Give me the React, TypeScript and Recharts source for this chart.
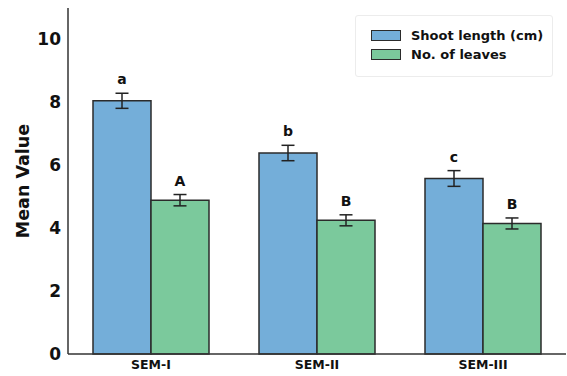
import React from 'react';
import { BarChart, Bar, XAxis, YAxis, ErrorBar, LabelList } from 'recharts';

const categories = ['SEM-I', 'SEM-II', 'SEM-III'];
const shootLength = [8.05, 6.39, 5.58];
const shootErr = [0.24, 0.245, 0.25];
const leaves = [4.89, 4.25, 4.15];
const leavesErr = [0.18, 0.175, 0.175];
const shootLetters = ['a', 'b', 'c'];
const leavesLetters = ['A', 'B', 'B'];
const yTicks = [0, 2, 4, 6, 8, 10];

const BLUE = '#74aed9';
const GREEN = '#7bc99c';
const EDGE = '#2b2b2b';
const FONT = '"DejaVu Sans", Verdana, sans-serif';

const data = categories.map((c, i) => ({
  name: c,
  shoot: shootLength[i],
  shootErr: shootErr[i],
  leaves: leaves[i],
  leavesErr: leavesErr[i],
}));

const makeLetter = (letters: string[], values: number[], errs: number[]) => (props: any) => {
  const { x, y, width, height, index } = props;
  const v = values[index];
  const pxPerUnit = height / v;
  const errTop = y - errs[index] * pxPerUnit;
  return (
    <text
      x={x + width / 2}
      y={errTop - 9}
      textAnchor="middle"
      fontFamily={FONT}
      fontWeight="bold"
      fontSize={14}
      fill="#111"
    >
      {letters[index]}
    </text>
  );
};

const legendItems = [
  { label: 'Shoot length (cm)', color: BLUE },
  { label: 'No. of leaves', color: GREEN },
];

const LegendBox = () => (
  <div
    style={{
      position: 'absolute',
      left: 355,
      top: 15,
      width: 198,
      height: 62,
      border: '1px solid #ececec',
      borderRadius: 3,
      boxSizing: 'border-box',
      background: '#fff',
      paddingTop: 10,
      paddingLeft: 15,
    }}
  >
    {legendItems.map((it) => (
      <div key={it.label} style={{ display: 'flex', alignItems: 'center', height: 19.3 }}>
        <div
          style={{
            width: 28,
            height: 9,
            background: it.color,
            border: `1px solid ${EDGE}`,
            marginRight: 10,
          }}
        />
        <span style={{ fontFamily: FONT, fontWeight: 'bold', fontSize: 13, color: '#111' }}>{it.label}</span>
      </div>
    ))}
  </div>
);

const yLabel = (props: any) => {
  const vb = props.viewBox || { x: 0, y: 8, width: 68, height: 346 };
  const cx = vb.x + 23;
  const cy = vb.y + vb.height / 2;
  return (
    <text
      x={cx}
      y={cy}
      transform={`rotate(-90 ${cx} ${cy})`}
      textAnchor="middle"
      dominantBaseline="central"
      fontFamily={FONT}
      fontWeight="bold"
      fontSize={17.5}
      fill="#111"
    >
      Mean Value
    </text>
  );
};

export default function App() {
  return (
    <div style={{ position: 'absolute', left: 0, top: 0, width: 567, height: 376, background: '#fff' }}>
      <BarChart
        width={567}
        height={376}
        data={data}
        margin={{ top: 8, right: 1, bottom: 0, left: 0 }}
        barGap={0}
      >
        <XAxis
          dataKey="name"
          height={22}
          tickLine={false}
          tickSize={4}
          tickMargin={2}
          axisLine={{ stroke: '#333', strokeWidth: 1.5 }}
          tick={{ fontFamily: FONT, fontWeight: 'bold', fontSize: 12.5, fill: '#111' }}
        />
        <YAxis
          width={68}
          domain={[0, 11]}
          ticks={yTicks}
          tickLine={false}
          tickSize={5}
          tickMargin={2}
          axisLine={{ stroke: '#333', strokeWidth: 1.5 }}
          tick={{ fontFamily: FONT, fontWeight: 'bold', fontSize: 17, fill: '#111' }}
          label={yLabel}
        />
        <Bar dataKey="shoot" fill={BLUE} stroke={EDGE} strokeWidth={1.5} barSize={58} isAnimationActive={false}>
          <ErrorBar dataKey="shootErr" width={6.5} stroke="#222" strokeWidth={1.5} direction="y" />
          <LabelList dataKey="shoot" content={makeLetter(shootLetters, shootLength, shootErr)} />
        </Bar>
        <Bar dataKey="leaves" fill={GREEN} stroke={EDGE} strokeWidth={1.5} barSize={58} isAnimationActive={false}>
          <ErrorBar dataKey="leavesErr" width={6.5} stroke="#222" strokeWidth={1.5} direction="y" />
          <LabelList dataKey="leaves" content={makeLetter(leavesLetters, leaves, leavesErr)} />
        </Bar>
      </BarChart>
      <LegendBox />
    </div>
  );
}
